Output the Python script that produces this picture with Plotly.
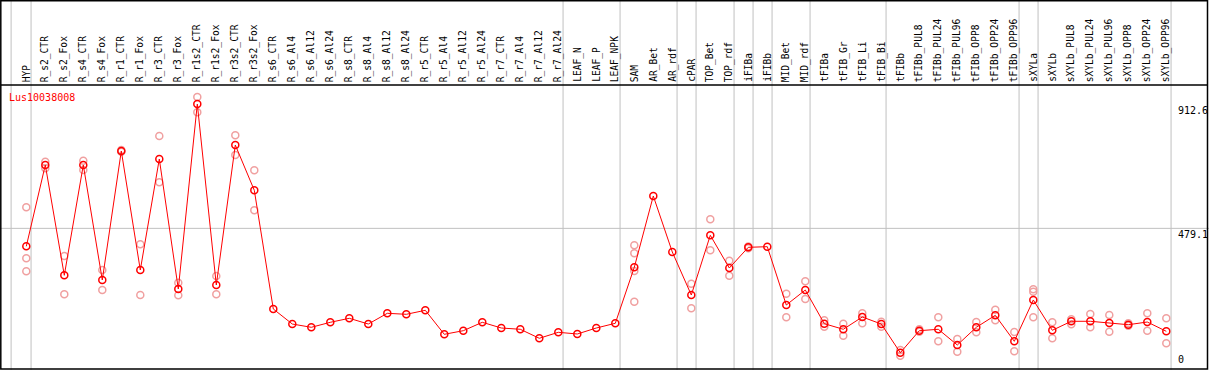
import plotly.graph_objects as go

categories = ["HYP", "R_s2_CTR", "R_s2_Fox", "R_s4_CTR", "R_s4_Fox", "R_r1_CTR", "R_r1_Fox",
              "R_r3_CTR", "R_r3_Fox", "R_r1s2_CTR", "R_r1s2_Fox", "R_r3s2_CTR", "R_r3s2_Fox",
              "R_s6_CTR", "R_s6_Al4", "R_s6_Al12", "R_s6_Al24", "R_s8_CTR", "R_s8_Al4", "R_s8_Al12",
              "R_s8_Al24", "R_r5_CTR", "R_r5_Al4", "R_r5_Al12", "R_r5_Al24", "R_r7_CTR", "R_r7_Al4",
              "R_r7_Al12", "R_r7_Al24", "LEAF_N", "LEAF_P", "LEAF_NPK", "SAM", "AR_Bet", "AR_rdf",
              "cPAR", "TOP_Bet", "TOP_rdf", "iFIBa", "iFIBb", "MID_Bet", "MID_rdf", "tFIBa",
              "tFIB_Gr", "tFIB_Li", "tFIB_Bi", "tFIBb", "tFIBb_PUL8", "tFIBb_PUL24", "tFIBb_PUL96",
              "tFIBb_OPP8", "tFIBb_OPP24", "tFIBb_OPP96", "sXYLa", "sXYLb", "sXYLb_PUL8",
              "sXYLb_PUL24", "sXYLb_PUL96", "sXYLb_OPP8", "sXYLb_OPP24", "sXYLb_OPP96"]

# group sizes (gray separators drawn after each group)
group_sizes = [1, 28, 3, 3, 1, 2, 1, 1, 2, 4, 7, 1, 7]

mean_values = [416.5, 700, 315.3, 700, 298.9, 748.9, 333.8, 721, 267.5, 912.6, 281.5, 769.8, 611.8,
               197.8, 145.4, 133.9, 151.4, 165.3, 145.4, 182.8, 179.3, 193.2, 109.5, 122.1, 151.4,
               131.5, 127, 95.6, 116.5, 110.6, 131.5, 147.9, 343.2, 591.9, 396.6, 246.6, 454.8,
               340.8, 413, 415.1, 211.7, 264, 146.5, 127, 169.9, 145.4, 45.3, 122.1, 127, 72.2,
               133.9, 175.8, 85.1, 229.2, 123.5, 154.9, 154.9, 148.9, 143, 152.4, 120]

replicates = [
    [552.5, 374.6, 329.3], [711.5, 688.5], [382.6, 249], [715, 682.6], [333.8, 264.1],
    [752, 746], [423.4, 246.6], [801.2, 639.7], [289.5, 245.6], [937, 884], [312.9, 249],
    [803.6, 734.9], [681.5, 542],
    [], [], [], [], [], [], [], [], [], [], [], [], [], [], [], [], [], [], [],
    [420, 392, 330.3, 223.2], [], [], [286, 200.2], [510.6, 402.5], [366.2, 313.9],
    [416, 410], [], [251.1, 168.8], [294.4, 232.6], [158.4, 136], [146.5, 104.6],
    [182.8, 147.9], [153.5, 136], [54.8, 34.9], [127, 118.6], [168.8, 85.1], [93.1, 48.8],
    [152.4, 116.5], [195.3, 158.4], [117.5, 50.2], [266.5, 258.1, 168.8], [151.4, 95.6],
    [161.8, 144.4], [180.3, 133.9], [176.8, 118.6], [147.9, 139.5], [182.8, 122.1],
    [165.3, 78.1],
]

axis_ticks = [912.6, 479.1, 0]
gene_name = "Lus10038008"

W, H = 1209, 370
FONT = "DejaVu Sans Mono"
RED = "#ff0000"
PINK = "#f0a0a0"
GRAY = "#c0c0c0"

idx = list(range(len(categories)))
rep_x, rep_y = [], []
for i, reps in enumerate(replicates):
    for v in reps:
        rep_x.append(i)
        rep_y.append(v)

fig = go.Figure()
fig.add_trace(go.Scatter(x=rep_x, y=rep_y, mode="markers",
                         marker=dict(symbol="circle-open", size=7, color=PINK, line=dict(width=1.5, color=PINK)),
                         hoverinfo="skip", showlegend=False, cliponaxis=False))
fig.add_trace(go.Scatter(x=idx, y=mean_values, mode="lines+markers",
                         line=dict(color=RED, width=1),
                         marker=dict(symbol="circle-open", size=7, color=RED, line=dict(width=1.5, color=RED)),
                         showlegend=False, cliponaxis=False))

shapes = []
# group separators
sep_pos = [-0.8]
acc = 0
for g in group_sizes:
    acc += g
    sep_pos.append(acc - 1 + 0.25)
for s in sep_pos:
    shapes.append(dict(type="line", xref="x", yref="paper", x0=s, x1=s, y0=0, y1=1,
                       line=dict(color=GRAY, width=1), layer="below"))
# horizontal middle grid line
shapes.append(dict(type="line", xref="paper", yref="y", x0=0, x1=1, y0=axis_ticks[1], y1=axis_ticks[1],
                   line=dict(color=GRAY, width=1), layer="below"))
# frame
bx0, bx1 = 0.8 / W, 1207.5 / W
shapes.append(dict(type="rect", xref="paper", yref="paper", x0=bx0, x1=bx1, y0=1 / H, y1=1 - 0.8 / H,
                   line=dict(color="black", width=1.5)))
shapes.append(dict(type="line", xref="paper", yref="paper", x0=bx0, x1=bx1, y0=(H - 85) / H, y1=(H - 85) / H,
                   line=dict(color="black", width=1.5)))

annotations = []
for i, c in enumerate(categories):
    annotations.append(dict(x=i, xref="x", y=(H - 83) / H, yref="paper", text=c, textangle=-90,
                            showarrow=False, xanchor="center", yanchor="bottom", borderpad=0,
                            font=dict(family=FONT, size=9.6, color="black")))
annotations.append(dict(x=8 / W, xref="paper", y=(H - 97) / H, yref="paper", text=gene_name,
                        showarrow=False, xanchor="left", yanchor="middle", borderpad=0,
                        font=dict(family=FONT, size=10, color=RED)))
for t in axis_ticks:
    annotations.append(dict(x=1177 / W, xref="paper", y=t, yref="y", text=("%g" % t),
                            showarrow=False, xanchor="left", yanchor=("bottom" if t == 0 else "top"),
                            borderpad=0, font=dict(family=FONT, size=10, color="black")))

fig.update_layout(
    width=W, height=H, margin=dict(l=0, r=0, t=0, b=0),
    paper_bgcolor="white", plot_bgcolor="white",
    xaxis=dict(range=[-26.3 / 19, -26.3 / 19 + W / 19], domain=[0, 1], visible=False, fixedrange=True),
    yaxis=dict(range=[-11.5, 979.1], domain=[1 / H, 285 / H], visible=False, fixedrange=True),
    shapes=shapes, annotations=annotations, showlegend=False,
)

fig.write_html("out.html", config={"displayModeBar": False},
               post_script="document.body.style.margin='0px';document.body.style.overflow='hidden';")
